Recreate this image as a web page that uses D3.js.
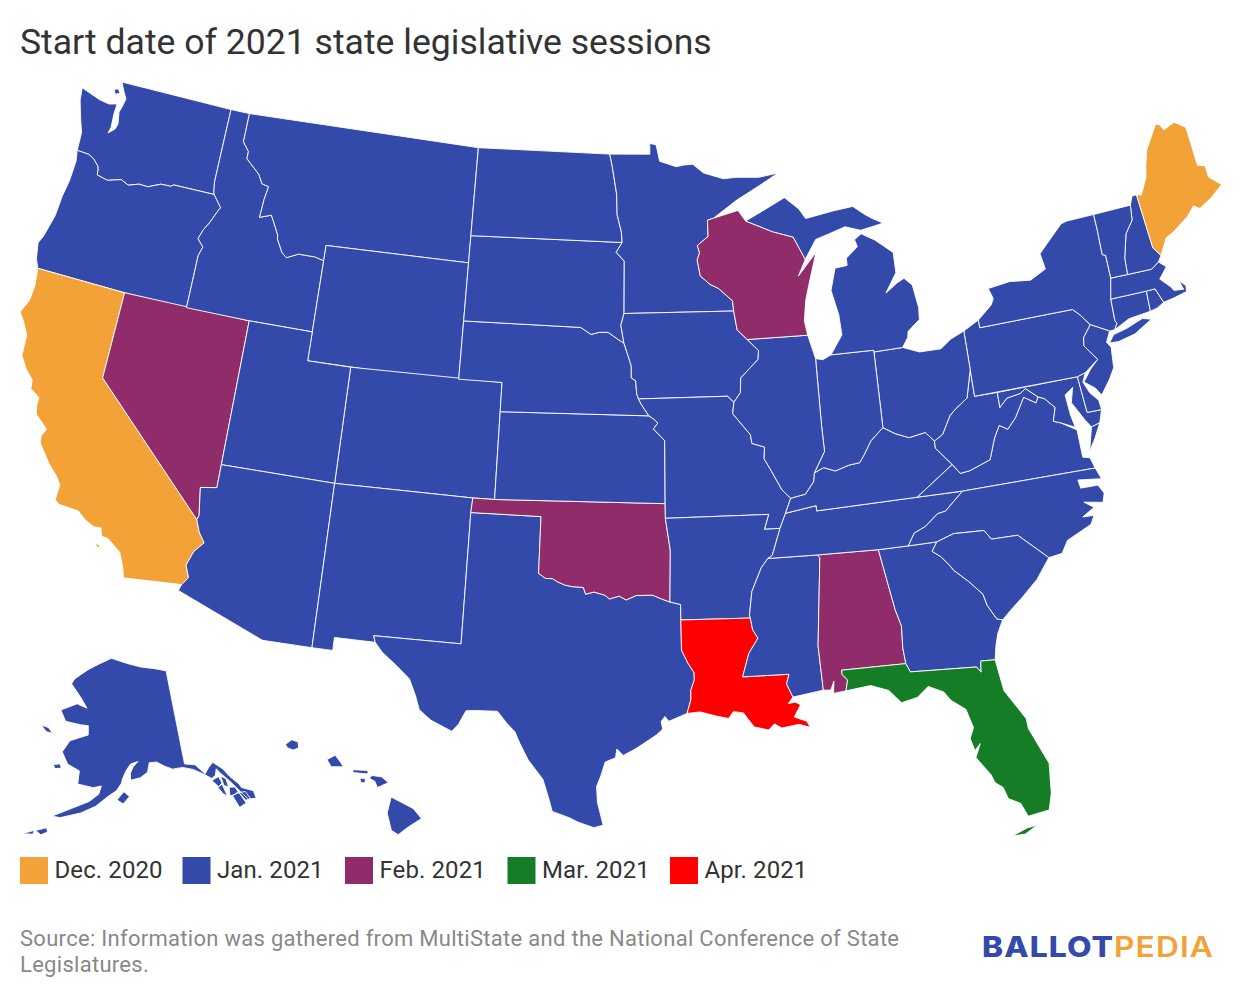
<!DOCTYPE html>
<html>
<head>
<meta charset="utf-8">
<script src="https://cdn.jsdelivr.net/npm/d3@7"></script>
<style>
  html, body { margin: 0; padding: 0; background: #fff; }
  text { font-family: Roboto, sans-serif; }
</style>
</head>
<body>
<svg id="chart" width="1240" height="998"></svg>
<script>
// outlines are [lon, lat], simplified by hand
const washington = [[-117.03,49],[-122.86,48.98],[-122.64,48.7],[-122.42,48.45],[-122.5,48.15],[-122.58,47.95],[-122.46,47.54],[-122.53,47.35],[-122.82,47.15],[-122.75,47.35],[-122.8,47.84],[-122.79,48.2],[-123.18,48.12],[-123.7,48.17],[-124.74,48.39],[-124.65,47.95],[-124.35,47.35],[-124.1,46.9],[-124.05,46.27],[-123.45,46.25],[-123.15,46.15],[-122.85,45.95],[-122.8,45.85],[-122.75,45.65],[-122.2,45.57],[-121.55,45.72],[-121.15,45.6],[-120.65,45.73],[-120.2,45.72],[-119.6,45.92],[-119.1,45.93],[-118.98,46],[-116.92,46],[-116.96,46.07],[-117.04,46.42],[-117.04,47.3]];
const sanJuan = [[-123.15,48.65],[-122.95,48.72],[-122.8,48.6],[-123,48.5]];
const oregon = [[-124.05,46.27],[-123.95,45.9],[-123.98,45.2],[-124.1,44.6],[-124.15,43.9],[-124.4,43.1],[-124.55,42.84],[-124.4,42.3],[-124.21,42],[-120,42],[-117.03,42],[-117.03,43.83],[-116.9,44.15],[-117.22,44.4],[-117.05,44.75],[-116.85,45],[-116.55,45.5],[-116.47,45.6],[-116.92,46],[-118.98,46],[-119.1,45.93],[-119.6,45.92],[-120.2,45.72],[-120.65,45.73],[-121.15,45.6],[-121.55,45.72],[-122.2,45.57],[-122.75,45.65],[-122.8,45.85],[-122.85,45.95],[-123.15,46.15],[-123.45,46.25]];
const california = [[-124.21,42],[-124.1,41.4],[-124.15,40.85],[-124.4,40.4],[-124.1,40.1],[-123.8,39.7],[-123.75,39],[-123.4,38.6],[-123,38.3],[-122.95,38],[-122.5,37.78],[-122.5,37.5],[-122.4,37.2],[-122,36.95],[-121.8,36.8],[-121.95,36.55],[-121.9,36.3],[-121.3,35.7],[-120.85,35.35],[-120.63,35.1],[-120.65,34.57],[-120.45,34.45],[-119.6,34.4],[-119.2,34.15],[-118.8,34],[-118.5,34.02],[-118.4,33.75],[-118.1,33.72],[-117.5,33.35],[-117.25,32.9],[-117.12,32.53],[-114.72,32.72],[-114.5,33],[-114.7,33.4],[-114.5,33.9],[-114.14,34.27],[-114.43,34.6],[-114.63,35],[-120,39],[-120,42]];
const catalina = [[-118.6,33.48],[-118.35,33.42],[-118.45,33.33]];
const nevada = [[-120,42],[-120,39],[-114.63,35],[-114.57,35.15],[-114.75,36.1],[-114.05,36.2],[-114.05,37],[-114.04,42]];
const idaho = [[-117.03,49],[-116.05,49],[-116.05,48],[-115.7,47.7],[-115.7,47.45],[-114.95,47],[-114.7,46.7],[-114.35,46.65],[-114.45,46.2],[-114.5,45.55],[-113.95,45.7],[-113.8,45.52],[-113.45,45.05],[-113.45,44.95],[-113.1,44.5],[-112.85,44.36],[-112.3,44.55],[-111.5,44.55],[-111.05,44.47],[-111.05,42],[-114.04,42],[-117.03,42],[-117.03,43.83],[-116.9,44.15],[-117.22,44.4],[-117.05,44.75],[-116.85,45],[-116.55,45.5],[-116.47,45.6],[-116.92,46],[-116.96,46.07],[-117.04,46.42],[-117.04,47.3]];
const montana = [[-116.05,49],[-104.05,49],[-104.05,45.94],[-104.05,45],[-111.05,45],[-111.05,44.47],[-111.5,44.55],[-112.3,44.55],[-112.85,44.36],[-113.1,44.5],[-113.45,44.95],[-113.45,45.05],[-113.8,45.52],[-113.95,45.7],[-114.5,45.55],[-114.45,46.2],[-114.35,46.65],[-114.7,46.7],[-114.95,47],[-115.7,47.45],[-115.7,47.7],[-116.05,48]];
const wyoming = [[-111.05,45],[-104.05,45],[-104.05,43],[-104.05,41],[-107.9,41],[-111.05,41]];
const colorado = [[-109.05,41],[-102.05,41],[-102.05,40],[-102.05,37],[-103,37],[-109.05,37]];
const utah = [[-114.04,42],[-111.05,42],[-111.05,41],[-109.05,41],[-109.05,37],[-114.05,37]];
const arizona = [[-114.05,37],[-109.05,37],[-109.05,31.33],[-111.07,31.33],[-114.81,32.5],[-114.72,32.72],[-114.5,33],[-114.7,33.4],[-114.5,33.9],[-114.14,34.27],[-114.43,34.6],[-114.63,35],[-114.57,35.15],[-114.75,36.1],[-114.05,36.2]];
const newMexico = [[-109.05,37],[-103,37],[-103.04,36.5],[-103.04,32],[-106.62,32],[-106.53,31.78],[-108.2,31.78],[-108.2,31.33],[-109.05,31.33]];
const texas = [[-103.04,36.5],[-100,36.5],[-100,34.56],[-99.7,34.4],[-99.4,34.4],[-99.2,34.3],[-98.9,34.2],[-98.6,34.15],[-98.1,34.13],[-98,33.9],[-97.65,33.98],[-97.2,33.88],[-97,33.75],[-96.6,33.85],[-96.3,33.72],[-95.9,33.87],[-95.5,33.88],[-95.2,33.88],[-94.8,33.74],[-94.48,33.64],[-94.04,33.55],[-94.04,33.02],[-94.04,31.99],[-93.8,31.55],[-93.55,31.2],[-93.55,30.95],[-93.7,30.6],[-93.7,30.3],[-93.87,29.81],[-94.6,29.55],[-94.75,29.72],[-94.9,29.55],[-94.85,29.28],[-95.1,29.08],[-95.9,28.62],[-96.4,28.38],[-96.65,28.6],[-96.7,28.3],[-97.1,28.15],[-97.25,27.7],[-97.42,27.3],[-97.38,26.75],[-97.15,25.96],[-97.5,25.87],[-98.1,26.05],[-98.45,26.2],[-99.1,26.4],[-99.25,26.85],[-99.5,27.5],[-100.1,28.15],[-100.45,28.7],[-100.67,29.1],[-101,29.37],[-101.4,29.77],[-102.3,29.75],[-102.65,29.72],[-102.9,29.25],[-103.15,28.98],[-104,29.3],[-104.5,29.63],[-104.7,30.1],[-105,30.65],[-105.6,31.08],[-106.2,31.47],[-106.53,31.78],[-106.62,32],[-103.04,32]];
const oklahoma = [[-103,37],[-102.05,37],[-94.62,37],[-94.62,36.5],[-94.43,35.4],[-94.48,33.64],[-94.8,33.74],[-95.2,33.88],[-95.5,33.88],[-95.9,33.87],[-96.3,33.72],[-96.6,33.85],[-97,33.75],[-97.2,33.88],[-97.65,33.98],[-98,33.9],[-98.1,34.13],[-98.6,34.15],[-98.9,34.2],[-99.2,34.3],[-99.4,34.4],[-99.7,34.4],[-100,34.56],[-100,36.5],[-103.04,36.5]];
const kansas = [[-102.05,40],[-95.3,40],[-95.05,39.87],[-94.9,39.75],[-95.1,39.55],[-94.6,39.15],[-94.62,37],[-102.05,37]];
const nebraska = [[-104.05,43],[-98.5,43],[-98,42.77],[-97.6,42.85],[-97.2,42.85],[-96.7,42.6],[-96.45,42.49],[-96.25,42.05],[-96.1,41.7],[-96.1,41.3],[-95.9,41.2],[-95.85,40.75],[-95.77,40.58],[-95.65,40.4],[-95.3,40],[-102.05,40],[-102.05,41],[-104.05,41]];
const southDakota = [[-104.05,45.94],[-96.56,45.94],[-96.85,45.6],[-96.45,45.3],[-96.45,43.5],[-96.6,43.1],[-96.45,42.49],[-96.7,42.6],[-97.2,42.85],[-97.6,42.85],[-98,42.77],[-98.5,43],[-104.05,43]];
const northDakota = [[-104.05,49],[-97.23,49],[-97.1,48.6],[-96.85,47.6],[-96.82,46.9],[-96.6,46.3],[-96.56,45.94],[-104.05,45.94]];
const minnesota = [[-97.23,49],[-95.15,49],[-95.15,49.38],[-94.82,49.32],[-94.65,48.75],[-93.8,48.55],[-93.4,48.6],[-92.95,48.62],[-92.4,48.3],[-91.4,48.07],[-90.75,48.1],[-89.6,48.05],[-88.6,48.15],[-89.5,47.8],[-90.8,47.3],[-92,46.72],[-92.3,46.66],[-92.3,46.1],[-92.85,45.8],[-92.75,45.55],[-92.88,45.3],[-92.75,44.75],[-92.3,44.45],[-91.9,44.3],[-91.25,43.85],[-91.22,43.5],[-96.45,43.5],[-96.45,45.3],[-96.85,45.6],[-96.56,45.94],[-96.6,46.3],[-96.82,46.9],[-96.85,47.6],[-97.1,48.6]];
const iowa = [[-96.45,43.5],[-91.22,43.5],[-91.1,42.85],[-90.65,42.5],[-90.15,42.1],[-90.2,41.8],[-91.05,41.2],[-91.1,40.7],[-91.42,40.38],[-91.7,40.6],[-95.77,40.58],[-95.85,40.75],[-95.9,41.2],[-96.1,41.3],[-96.1,41.7],[-96.25,42.05],[-96.45,42.49],[-96.6,43.1]];
const missouri = [[-95.77,40.58],[-91.7,40.6],[-91.42,40.38],[-91.5,40],[-90.75,39.25],[-90.7,38.95],[-90.15,38.8],[-90.2,38.4],[-89.9,37.95],[-89.5,37.3],[-89.15,37],[-89.42,36.5],[-89.7,36],[-90.37,36],[-90.15,36.5],[-94.62,36.5],[-94.62,37],[-94.6,39.15],[-95.1,39.55],[-94.9,39.75],[-95.05,39.87],[-95.3,40],[-95.65,40.4]];
const arkansas = [[-94.62,36.5],[-90.15,36.5],[-90.37,36],[-89.7,36],[-90.1,35.1],[-90.3,35],[-90.6,34.7],[-91.05,33.9],[-91.2,33.1],[-91.17,33],[-94.04,33.02],[-94.04,33.55],[-94.48,33.64],[-94.43,35.4]];
const louisiana = [[-94.04,33.02],[-91.17,33],[-91.1,32.6],[-90.9,32.3],[-91.3,31.8],[-91.6,31],[-89.73,31],[-89.85,30.67],[-89.63,30.21],[-89.83,30],[-89.55,30.03],[-89.35,29.93],[-89.63,29.52],[-89.15,29.35],[-89.03,29.13],[-89.47,29.26],[-90.15,29.17],[-90.43,29.33],[-90.67,29.13],[-91.23,29.26],[-91.47,29.55],[-91.63,29.76],[-92.03,29.82],[-92.23,29.59],[-92.67,29.68],[-93.35,29.85],[-93.87,29.81],[-93.7,30.3],[-93.7,30.6],[-93.55,30.95],[-93.55,31.2],[-93.8,31.55],[-94.04,31.99]];
const mississippi = [[-91.17,33],[-91.2,33.1],[-91.05,33.9],[-90.6,34.7],[-90.3,35],[-88.2,35],[-88.1,34.9],[-88.47,31.9],[-88.4,30.37],[-89.63,30.21],[-89.85,30.67],[-89.73,31],[-91.6,31],[-91.3,31.8],[-90.9,32.3],[-91.1,32.6]];
const alabama = [[-88.2,35],[-85.6,34.98],[-85.18,32.87],[-85,32.3],[-85.05,31.55],[-85,31],[-87.6,31],[-87.6,30.85],[-87.4,30.65],[-87.5,30.28],[-88,30.23],[-87.95,30.65],[-88.1,30.35],[-88.4,30.37],[-88.47,31.9],[-88.1,34.9]];
const georgia = [[-85.6,34.98],[-84.32,34.99],[-83.1,35],[-83.35,34.7],[-83,34.47],[-82.75,34.2],[-82.55,33.95],[-82,33.5],[-81.5,33],[-81.4,32.6],[-81.1,32.1],[-80.87,32.03],[-81.15,31.6],[-81.3,31.2],[-81.42,30.72],[-82,30.75],[-82.05,30.37],[-82.2,30.57],[-84.86,30.7],[-85,31],[-85.05,31.55],[-85,32.3],[-85.18,32.87]];
const florida = [[-87.6,31],[-85,31],[-84.86,30.7],[-82.2,30.57],[-82.05,30.37],[-82,30.75],[-81.42,30.72],[-81.26,29.62],[-80.57,28.55],[-80.55,28.2],[-79.98,26.9],[-80.09,25.86],[-80.27,25.3],[-81.09,25.2],[-81.29,25.68],[-81.73,25.91],[-81.86,26.32],[-82.14,26.53],[-82.25,26.82],[-82.73,27.48],[-82.49,27.94],[-82.73,27.72],[-82.85,28.16],[-82.66,28.52],[-82.86,29.18],[-83.4,29.56],[-83.63,29.87],[-84.22,30.13],[-84.7,29.8],[-85.35,29.68],[-85.8,30.15],[-86.5,30.38],[-87.5,30.28],[-87.4,30.65],[-87.6,30.85]];
const floridaKeys = [[-81.8,24.6],[-81.2,24.8],[-80.8,24.85],[-81.3,24.6]];
const tennessee = [[-90.3,35],[-88.2,35],[-85.6,34.98],[-84.32,34.99],[-84,35.4],[-83.5,35.57],[-82.9,35.95],[-82.55,36],[-81.7,36.59],[-83.68,36.6],[-88.07,36.5],[-88.07,36.68],[-89.42,36.5],[-89.7,36],[-90.1,35.1]];
const kentucky = [[-89.42,36.5],[-88.07,36.68],[-88.07,36.5],[-83.68,36.6],[-81.97,37.54],[-82.6,38.17],[-82.6,38.42],[-82.95,38.75],[-83.7,38.65],[-84.3,38.85],[-84.8,39.1],[-85.4,38.7],[-85.75,38.27],[-86,38],[-86.5,37.95],[-87.1,37.8],[-87.6,37.95],[-88.03,37.8],[-88.1,37.5],[-88.5,37.1],[-89.15,37]];
const virginia = [[-83.68,36.6],[-81.97,37.54],[-81.68,37.2],[-81.25,37.24],[-80.3,37.5],[-79.95,38.2],[-79.65,38.6],[-79.3,38.42],[-78.87,38.77],[-78.35,39.4],[-77.85,39.13],[-77.72,39.32],[-77.45,39.22],[-77.05,38.85],[-77.25,38.4],[-76.95,38.3],[-76.3,37.95],[-76.3,37.55],[-76.3,37],[-76,36.93],[-75.87,36.55],[-81.7,36.59]];
const virginiaShore = [[-75.95,37.15],[-75.65,37.95],[-75.25,38.03],[-75.6,37.55]];
const westVirginia = [[-82.6,38.17],[-82.6,38.42],[-82.2,38.6],[-81.75,39.2],[-81.45,39.4],[-80.87,39.7],[-80.52,40.64],[-80.52,39.72],[-79.48,39.72],[-79.48,39.2],[-79.1,39.47],[-78.45,39.55],[-78.2,39.68],[-77.72,39.32],[-77.85,39.13],[-78.35,39.4],[-78.87,38.77],[-79.3,38.42],[-79.65,38.6],[-79.95,38.2],[-80.3,37.5],[-81.25,37.24],[-81.68,37.2],[-81.97,37.54]];
const maryland = [[-79.48,39.72],[-75.79,39.72],[-75.7,38.46],[-75.05,38.45],[-75.25,38.03],[-75.65,37.95],[-75.85,38.2],[-76.3,38.9],[-76.1,39.4],[-76.5,39.2],[-76.45,38.5],[-76.35,38.05],[-76.95,38.3],[-77.25,38.4],[-77.05,38.85],[-77.45,39.22],[-77.72,39.32],[-78.2,39.68],[-78.45,39.55],[-79.1,39.47],[-79.48,39.2]];
const delaware = [[-75.79,39.72],[-75.4,39.8],[-75.6,39.5],[-75.4,39.1],[-75.08,38.78],[-75.05,38.45],[-75.7,38.46]];
const pennsylvania = [[-80.52,41.98],[-79.76,42.27],[-79.76,42],[-75.35,42],[-75.05,41.75],[-74.7,41.36],[-75.13,40.98],[-75.2,40.7],[-74.72,40.15],[-75.4,39.8],[-75.79,39.72],[-80.52,39.72]];
const newYork = [[-79.76,42.27],[-79.05,42.7],[-78.9,42.9],[-79.05,43.27],[-78,43.37],[-77,43.28],[-76.2,43.55],[-76.3,44.1],[-75.85,44.4],[-75,44.95],[-74.7,45],[-73.35,45.01],[-73.35,44.5],[-73.4,43.6],[-73.25,43.55],[-73.27,42.75],[-73.5,42.05],[-73.55,41.3],[-73.48,41.2],[-73.65,41],[-73.9,41],[-74.7,41.36],[-75.05,41.75],[-75.35,42],[-79.76,42]];
const longIsland = [[-74.03,40.6],[-73.75,40.85],[-73.1,40.95],[-72.3,41.15],[-71.9,41.05],[-72.8,40.7],[-73.6,40.58]];
const newJersey = [[-74.7,41.36],[-73.9,41],[-74.15,40.65],[-74,40.45],[-74.1,39.75],[-74.4,39.4],[-74.9,38.93],[-75.1,39.2],[-75.55,39.5],[-75.13,39.88],[-74.72,40.15],[-75.2,40.7],[-75.13,40.98]];
const connecticut = [[-73.5,42.05],[-71.8,42.02],[-71.85,41.32],[-72.9,41.25],[-73.65,41],[-73.48,41.2],[-73.55,41.3]];
const rhodeIsland = [[-71.8,42.02],[-71.38,42.02],[-71.15,41.5],[-71.5,41.37],[-71.85,41.32]];
const massachusetts = [[-73.5,42.05],[-73.27,42.75],[-72.46,42.73],[-71.3,42.7],[-70.9,42.88],[-70.6,42.65],[-71.05,42.3],[-70.65,41.95],[-70.55,41.8],[-70.1,41.75],[-70.2,42.07],[-69.95,41.85],[-70,41.65],[-70.65,41.55],[-71.15,41.5],[-71.38,42.02],[-71.8,42.02]];
const newHampshire = [[-71.5,45.01],[-71.3,45.3],[-71.08,45.3],[-70.98,43.4],[-70.7,43.07],[-70.9,42.88],[-71.3,42.7],[-72.46,42.73],[-72.4,43.3],[-72.05,44.1],[-71.6,44.5]];
const vermont = [[-73.35,45.01],[-71.5,45.01],[-71.6,44.5],[-72.05,44.1],[-72.4,43.3],[-72.46,42.73],[-73.27,42.75],[-73.25,43.55],[-73.4,43.6],[-73.35,44.5]];
const maine = [[-71.08,45.3],[-70.85,45.25],[-70.4,45.8],[-70.25,46.2],[-70,46.7],[-69.23,47.46],[-69.05,47.43],[-68.9,47.2],[-68.3,47.36],[-67.8,47.07],[-67.8,45.7],[-67.45,45.6],[-67.45,45.2],[-66.95,44.82],[-67.6,44.5],[-68.3,44.25],[-68.55,44.4],[-69,44.1],[-69.8,43.75],[-70.25,43.6],[-70.7,43.07],[-70.98,43.4]];
const ohio = [[-84.8,39.1],[-84.8,41.7],[-83.45,41.73],[-82.7,41.5],[-81.7,41.5],[-81.2,41.77],[-80.52,41.98],[-80.52,40.64],[-80.87,39.7],[-81.45,39.4],[-81.75,39.2],[-82.2,38.6],[-82.6,38.42],[-82.95,38.75],[-83.7,38.65],[-84.3,38.85]];
const indiana = [[-84.8,39.1],[-85.4,38.7],[-85.75,38.27],[-86,38],[-86.5,37.95],[-87.1,37.8],[-87.6,37.95],[-88.03,37.8],[-87.5,38.5],[-87.53,39.35],[-87.53,41.68],[-87.2,41.62],[-86.8,41.76],[-84.8,41.76]];
const illinois = [[-87.53,41.68],[-87.53,39.35],[-87.5,38.5],[-88.03,37.8],[-88.1,37.5],[-88.5,37.1],[-89.15,37],[-89.5,37.3],[-89.9,37.95],[-90.2,38.4],[-90.15,38.8],[-90.7,38.95],[-90.75,39.25],[-91.5,40],[-91.42,40.38],[-91.1,40.7],[-91.05,41.2],[-90.2,41.8],[-90.15,42.1],[-90.65,42.5],[-87.8,42.5],[-87.6,41.9]];
const wisconsin = [[-92.3,46.66],[-92,46.72],[-91.2,46.87],[-90.75,46.95],[-90.4,46.57],[-89.1,46.14],[-88.1,45.9],[-87.6,45.1],[-88,44.55],[-87.05,45.3],[-87.5,44.3],[-87.75,43.7],[-87.9,43],[-87.8,42.5],[-90.65,42.5],[-91.1,42.85],[-91.22,43.5],[-91.25,43.85],[-91.9,44.3],[-92.3,44.45],[-92.75,44.75],[-92.88,45.3],[-92.75,45.55],[-92.85,45.8],[-92.3,46.1]];
const michiganLower = [[-86.8,41.76],[-84.8,41.76],[-84.8,41.7],[-83.45,41.73],[-83.15,42.05],[-83.1,42.25],[-82.5,42.6],[-82.45,43],[-82.6,43.8],[-82.95,44.07],[-83.3,43.95],[-83.9,43.65],[-83.3,44.3],[-83.3,45],[-84.1,45.5],[-84.75,45.78],[-85.1,45.6],[-85,45.35],[-85.6,45],[-85.6,44.75],[-86.2,44.7],[-86.5,43.95],[-86.25,43.1],[-86.2,42.4]];
const michiganUpper = [[-90.4,46.57],[-89.1,46.14],[-88.1,45.9],[-87.6,45.1],[-87,45.75],[-86.3,45.9],[-85.5,46.08],[-84.75,45.9],[-84.1,45.98],[-83.6,46.05],[-84.1,46.25],[-84.5,46.45],[-85,46.75],[-86,46.67],[-87.4,46.5],[-87.7,46.85],[-88.4,47.3],[-87.75,47.5],[-88.9,47.1],[-89.6,46.85]];
const northCarolina = [[-81.7,36.59],[-75.87,36.55],[-75.7,36.15],[-76.71,36.27],[-76.66,35.98],[-75.91,35.96],[-75.72,35.65],[-75.85,35.35],[-76.65,35.49],[-76.27,35.25],[-76.82,35],[-76.34,34.98],[-76.54,34.7],[-77.65,34.32],[-77.97,33.92],[-78.55,33.86],[-79.67,34.8],[-80.8,34.82],[-81.05,35.15],[-82.35,35.2],[-83.1,35],[-84.32,34.99],[-84,35.4],[-83.5,35.57],[-82.9,35.95],[-82.55,36]];
const southCarolina = [[-83.1,35],[-82.35,35.2],[-81.05,35.15],[-80.8,34.82],[-79.67,34.8],[-78.55,33.86],[-79.2,33.2],[-79.9,32.7],[-80.5,32.3],[-80.87,32.03],[-81.1,32.1],[-81.4,32.6],[-81.5,33],[-82,33.5],[-82.55,33.95],[-82.75,34.2],[-83,34.47],[-83.35,34.7]];
const alaskaMain = [[-141,69.65],[-141,60.3],[-139,60],[-137.5,58.9],[-136.5,59.45],[-135.5,59.8],[-134,58.9],[-133.2,58],[-132,57],[-131.8,56.6],[-130,55.9],[-130,55.1],[-131.3,55.3],[-132,56],[-132.8,56.9],[-133.6,57.7],[-134.6,58.5],[-135.2,59.1],[-135.7,58.5],[-136.5,58.3],[-138,59],[-139.6,59.6],[-141.5,60],[-143.5,60],[-145,60.4],[-146.5,60.9],[-148,60.9],[-148.5,60],[-150,59.5],[-151.9,59.3],[-151.9,60],[-151.3,60.6],[-150.3,61.1],[-151.8,60.9],[-152.8,60.2],[-153.5,59.4],[-153.7,59],[-154.6,58.3],[-156.2,57.7],[-158.3,56.7],[-160.9,55.9],[-164.3,55.2],[-165.8,55.2],[-165.2,55.4],[-162.4,56.3],[-159.6,57.1],[-157.9,57.9],[-157.5,58.7],[-159,58.5],[-162,58.7],[-162,60],[-164.5,60.5],[-166,61.6],[-164.8,62.8],[-163,63.2],[-161,63.6],[-161.2,64.5],[-163,64.5],[-166.5,64.6],[-168.1,65.6],[-164.5,66.5],[-162,66.2],[-163.7,67.1],[-166.8,68.35],[-166.2,68.9],[-163,70],[-160,70.7],[-156.5,71.35],[-152,70.85],[-148,70.4],[-144,70.05]];
const kodiak = [[-154.5,57.4],[-153.2,58.2],[-152.2,57.7],[-153.4,57]];
const nunivak = [[-167.3,60.2],[-166,60.4],[-165.6,60],[-166.8,59.85]];
const stLawrence = [[-171.7,63.7],[-170,63.65],[-168.8,63.2],[-170.2,63.2]];
const unalaska = [[-168,53.5],[-166.3,54],[-166,53.6],[-167,53.2]];
const umnak = [[-170,52.9],[-168.2,53.5],[-168.3,53.1]];
const chichagof = [[-136.6,58.1],[-135.2,58.3],[-134.9,57.6],[-135.7,57.35]];
const admiralty = [[-134.8,58.3],[-134,57.9],[-133.95,57.05],[-134.7,57.3]];
const baranof = [[-135.85,57.3],[-134.95,57.5],[-134.65,56.2],[-135.3,56.6]];
const kupreanof = [[-133.9,57],[-132.9,56.85],[-132.6,56.3],[-133.6,56.1],[-134.2,56.2]];
const princeOfWales = [[-133.8,56.15],[-132.5,56.2],[-131.9,55],[-133.2,54.8]];
const revilla = [[-132.5,56.2],[-131.4,56.1],[-130.9,55.2],[-131.85,55.3]];
const hawaiiBig = [[-155.9,20.25],[-155.6,20.1],[-155.1,19.85],[-154.8,19.5],[-155.3,19.2],[-155.65,18.95],[-155.9,19.1],[-156.05,19.7]];
const maui = [[-156.7,20.9],[-156.6,21],[-156.25,20.95],[-156,20.75],[-156.4,20.58],[-156.5,20.8]];
const lanai = [[-157.05,20.9],[-156.85,20.9],[-156.85,20.75],[-157,20.75]];
const molokai = [[-157.3,21.2],[-156.75,21.17],[-156.75,21.05],[-157.3,21.1]];
const oahu = [[-158.25,21.55],[-157.95,21.7],[-157.75,21.45],[-157.65,21.3],[-158.1,21.3]];
const kauai = [[-159.78,22.07],[-159.55,22.23],[-159.32,22.15],[-159.3,21.95],[-159.5,21.87],[-159.72,21.95]];

const stateNames = ["Washington","Oregon","California","Nevada","Idaho","Montana","Wyoming","Colorado","Utah","Arizona","New Mexico","Texas","Oklahoma","Kansas","Nebraska","South Dakota","North Dakota","Minnesota","Iowa","Missouri","Arkansas","Louisiana","Mississippi","Alabama","Georgia","Florida","Tennessee","Kentucky","Virginia","West Virginia","Maryland","Delaware","Pennsylvania","New York","New Jersey","Connecticut","Rhode Island","Massachusetts","New Hampshire","Vermont","Maine","Ohio","Indiana","Illinois","Wisconsin","Michigan","North Carolina","South Carolina","Alaska","Hawaii"];
const stateRings = [[washington,sanJuan],[oregon],[california,catalina],[nevada],[idaho],[montana],[wyoming],[colorado],[utah],[arizona],[newMexico],[texas],[oklahoma],[kansas],[nebraska],[southDakota],[northDakota],[minnesota],[iowa],[missouri],[arkansas],[louisiana],[mississippi],[alabama],[georgia],[florida,floridaKeys],[tennessee],[kentucky],[virginia,virginiaShore],[westVirginia],[maryland],[delaware],[pennsylvania],[newYork,longIsland],[newJersey],[connecticut],[rhodeIsland],[massachusetts],[newHampshire],[vermont],[maine],[ohio],[indiana],[illinois],[wisconsin],[michiganLower,michiganUpper],[northCarolina],[southCarolina],[alaskaMain,kodiak,nunivak,stLawrence,unalaska,umnak,chichagof,admiralty,baranof,kupreanof,princeOfWales,revilla],[hawaiiBig,maui,lanai,molokai,oahu,kauai]];

const legendLabels = ["Dec. 2020","Jan. 2021","Feb. 2021","Mar. 2021","Apr. 2021"];
const legendColors = ["#f2a236","#334aab","#8f2c69","#167d27","#ff0000"];
const decStates = ["California","Maine"];
const febStates = ["Nevada","Wisconsin","Oklahoma","Alabama"];
const marStates = ["Florida"];
const aprStates = ["Louisiana"];
const sourceLines = ["Source: Information was gathered from MultiState and the National Conference of State","Legislatures."];

const startOf = name => {
    if (decStates.includes(name)) return legendLabels[0];
    if (febStates.includes(name)) return legendLabels[2];
    if (marStates.includes(name)) return legendLabels[3];
    if (aprStates.includes(name)) return legendLabels[4];
    return legendLabels[1];
};
const color = d3.scaleOrdinal().domain(legendLabels).range(legendColors);

const svg = d3.select("#chart");

// same composition as albersUsa, kept apart so the far islands are not clipped
const SCALE = 1664, TX = 620, TY = 454;
const lower48 = d3.geoAlbers().scale(SCALE).translate([TX, TY]);
const alaskaProj = d3.geoConicEqualArea().rotate([154, 0]).center([-2, 58.5]).parallels([55, 65])
    .scale(SCALE * 0.35).translate([TX - 0.307 * SCALE, TY + 0.201 * SCALE]);
const hawaiiProj = d3.geoConicEqualArea().rotate([157, 0]).center([-3, 19.9]).parallels([8, 18])
    .scale(SCALE).translate([TX - 0.205 * SCALE, TY + 0.212 * SCALE]);

const flat = proj => d3.geoPath(d3.geoTransform({
    point(x, y) { const p = proj([x, y]); this.stream.point(p[0], p[1]); }
}));
const pathFor = name => flat(name === "Alaska" ? alaskaProj : name === "Hawaii" ? hawaiiProj : lower48);

const states = stateNames.map((name, i) => ({
    type: "Feature",
    properties: { name },
    geometry: { type: "MultiPolygon", coordinates: stateRings[i].map(r => [r.concat([r[0]])]) }
}));

svg.append("g").selectAll("path")
    .data(states)
    .join("path")
    .attr("d", d => pathFor(d.properties.name)(d))
    .attr("fill", d => color(startOf(d.properties.name)))
    .attr("stroke", "#fff")
    .attr("stroke-width", 0.9)
    .attr("stroke-linejoin", "round");

// title
svg.append("text").attr("x", 20).attr("y", 54)
    .attr("font-size", 35.6).attr("fill", "#333")
    .text("Start date of 2021 state legislative sessions");

// legend
const legendX = d3.scalePoint().domain(legendLabels).range([20, 670]);
const legendItem = svg.append("g").selectAll("g")
    .data(legendLabels)
    .join("g")
    .attr("transform", d => `translate(${legendX(d)},857)`);
legendItem.append("rect").attr("width", 28).attr("height", 27).attr("fill", d => color(d));
legendItem.append("text").attr("x", 34.5).attr("y", 21)
    .attr("font-size", 24).attr("letter-spacing", 0.1).attr("fill", "#333").text(d => d);

// source
svg.append("g").selectAll("text")
    .data(sourceLines)
    .join("text")
    .attr("x", 20).attr("y", (d, i) => 946 + i * 26)
    .attr("font-size", 22).attr("letter-spacing", 0.29).attr("fill", "#888")
    .text(d => d);

// logo
const logo = svg.append("text").attr("x", 982).attr("y", 957)
    .attr("font-size", 29).attr("letter-spacing", 1)
    .attr("textLength", 232).attr("lengthAdjust", "spacingAndGlyphs");
logo.append("tspan").attr("font-family", "Inter").attr("font-weight", 800).attr("fill", legendColors[1]).text("BALLOT");
logo.append("tspan").attr("font-family", "Inter").attr("font-weight", 600).attr("fill", legendColors[0]).text("PEDIA");
</script>
</body>
</html>
